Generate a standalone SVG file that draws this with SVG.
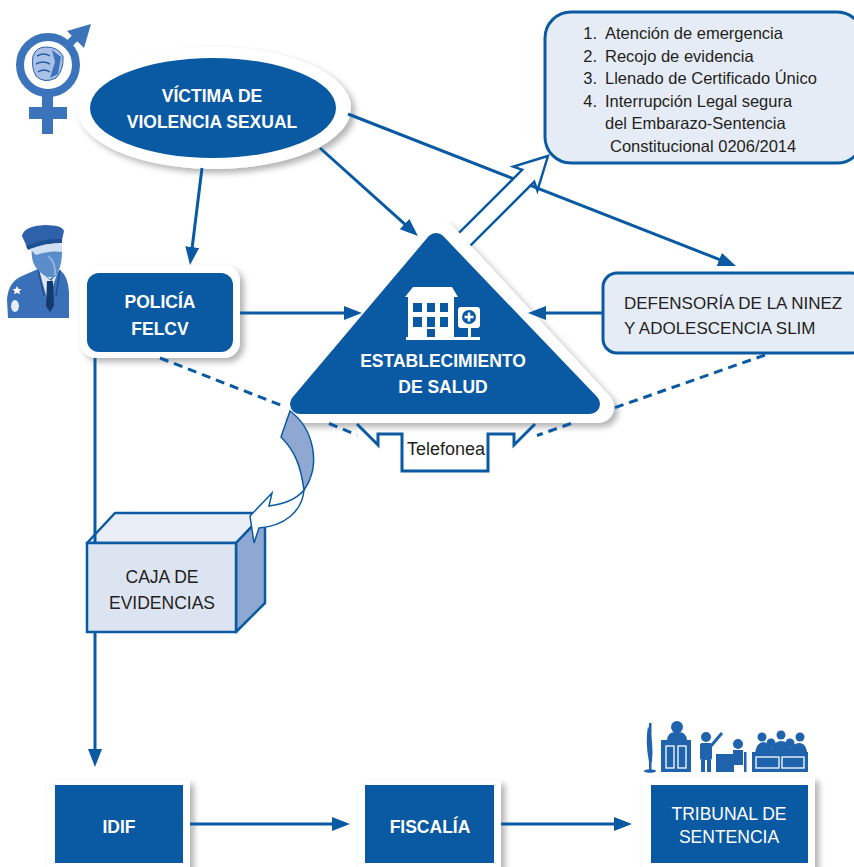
<svg xmlns="http://www.w3.org/2000/svg" width="854" height="867" viewBox="0 0 854 867">
<style>
.wt{font-family:"Liberation Sans",Arial,sans-serif;font-weight:bold;fill:#fff;font-size:17.5px;text-anchor:middle}
.wr{font-family:"Liberation Sans",Arial,sans-serif;fill:#fff;font-size:17.5px;text-anchor:middle}
.dt{font-family:"Liberation Sans",Arial,sans-serif;fill:#231f20}
.ln{stroke:#0a5aa3;stroke-width:3;fill:none}
.dash{stroke-dasharray:9 6}
.blue{fill:#0a5aa3}
.halo{fill:#fff;filter:url(#sh)}
.lt{fill:#e6ecf6;stroke:#0a5aa3;stroke-width:3}
.ic{fill:#1f63ad}
</style>
<defs>
<filter id="sh" x="-20%" y="-20%" width="150%" height="150%">
<feDropShadow dx="4" dy="4" stdDeviation="3" flood-color="#000" flood-opacity="0.3"/>
</filter>
<marker id="ah" viewBox="0 0 18 14" refX="10" refY="7" markerWidth="18" markerHeight="14" orient="auto" markerUnits="userSpaceOnUse">
<path d="M0,0 L18,7 L0,14 z" fill="#0a5aa3"/>
</marker>
</defs>
<rect width="854" height="867" fill="#fff"/>

<g id="icon-gender">
<circle cx="48" cy="65" r="28" fill="none" stroke="#3b74bb" stroke-width="8"/>
<path d="M66,47 L80,33" stroke="#3b74bb" stroke-width="8"/>
<path d="M91,24 L84,48 L67,31 Z" fill="#3b74bb"/>
<rect x="42" y="94" width="11" height="40" fill="#3b74bb"/>
<rect x="29" y="107" width="38" height="12" fill="#3b74bb"/>
<path d="M33,56 Q36,47 46,47 Q58,47 63,56 Q64,70 56,78 Q44,84 36,76 Q31,67 33,56 Z" fill="#a9c1e6" stroke="#2a5ea6" stroke-width="1"/>
<path d="M37,56 Q44,52 50,56 M36,64 Q43,60 50,64 M38,72 Q44,68 50,72" stroke="#2a5ea6" stroke-width="1.5" fill="none"/>
<path d="M52,50 L61,57 L58,74 L50,78 L55,62 Z" fill="#3b74bb"/>
</g>

<g id="icon-police">
<path d="M8,318 L7,300 Q8,282 22,276 L38,269 L50,279 L60,270 Q68,276 69,292 L69,318 Z" fill="#3a70b7"/>
<path d="M39,270 L48,302 L58,271 L51,281 Z" fill="#dde7f5"/>
<path d="M47,281 L53,281 L54,306 L50,312 L46,306 Z" fill="#123a70"/>
<path d="M38,269 L44,296 M60,270 L56,296" stroke="#244f8f" stroke-width="1.5" fill="none"/>
<path d="M32,246 Q30,262 38,270 Q46,279 55,277 Q62,268 62,252 L62,244 Z" fill="#5b8dcb"/>
<path d="M48,256 Q56,262 55,275" stroke="#8fb2e0" stroke-width="2" fill="none"/>
<path d="M22,236 Q24,226 45,225 Q62,225 64,231 L62,240 Q44,239 27,247 Z" fill="#2d62aa"/>
<path d="M26,246 Q44,238 62,239 L62,243 Q44,243 28,250 Z" fill="#1d4f93"/>
<path d="M30,249 Q46,243 62,244 L62,252 Q50,250 36,255 Z" fill="#cfe0f4"/>
<path d="M17,286 l1.5,3 l3,0.3 l-2.3,2 l0.8,3 l-3,-1.6 l-3,1.6 l0.8,-3 l-2.3,-2 l3,-0.3 Z" fill="#fff"/>
<ellipse cx="15" cy="306" rx="4" ry="6" fill="#e3ecf8"/>
</g>

<g id="node-victima">
<ellipse cx="214" cy="108" rx="137" ry="61" class="halo"/>
<ellipse cx="213" cy="108" rx="123" ry="50" class="blue"/>
<text class="wt" x="212" y="102">VÍCTIMA DE</text>
<text class="wt" x="212" y="128">VIOLENCIA SEXUAL</text>
</g>

<g id="node-lista">
<rect x="545" y="12" width="318" height="151" rx="26" class="lt"/>
<g class="dt" font-size="16.5">
<text x="597" y="39" text-anchor="end">1.</text>
<text x="605" y="39">Atención de emergencia</text>
<text x="597" y="62" text-anchor="end">2.</text>
<text x="605" y="62">Recojo de evidencia</text>
<text x="597" y="84" text-anchor="end">3.</text>
<text x="605" y="84">Llenado de Certificado Único</text>
<text x="597" y="107" text-anchor="end">4.</text>
<text x="605" y="107">Interrupción Legal segura</text>
<text x="605" y="129">del Embarazo-Sentencia</text>
<text x="610" y="152">Constitucional 0206/2014</text>
</g>
</g>

<g id="node-policia">
<rect x="80" y="265" width="160" height="93" rx="16" class="halo"/>
<rect x="87" y="273" width="146" height="79" rx="12" class="blue"/>
<text class="wt" x="160" y="308">POLICÍA</text>
<text class="wt" x="160" y="335">FELCV</text>
</g>

<g id="node-defensoria">
<rect x="603" y="273" width="262" height="80" rx="14" class="lt"/>
<text class="dt" font-size="17" x="624" y="309">DEFENSORÍA DE LA NINEZ</text>
<text class="dt" font-size="17" x="624" y="334">Y ADOLESCENCIA SLIM</text>
</g>

<g id="node-establecimiento">
<polygon points="442,238 298,407 598,407" fill="#fff" stroke="#fff" stroke-width="32" stroke-linejoin="round" filter="url(#sh)"/>
<polygon points="436,243 300,404 590,404" fill="#0a5aa3" stroke="#0a5aa3" stroke-width="20" stroke-linejoin="round"/>
<g fill="#fff">
<path d="M413,287 L452,287 L458,297 L405,297 Z"/>
<rect x="408" y="297" width="46" height="42"/>
<rect x="406" y="337" width="74" height="3"/>
<rect x="458" y="307" width="22" height="21" rx="3"/>
<rect x="468" y="327" width="3" height="11"/>
</g>
<g fill="#0a5aa3">
<rect x="413" y="303" width="9" height="9"/>
<rect x="427" y="303" width="8" height="9"/>
<rect x="440" y="303" width="8" height="9"/>
<rect x="413" y="317" width="9" height="10"/>
<rect x="427" y="317" width="8" height="10"/>
<rect x="440" y="317" width="8" height="10"/>
<rect x="427" y="329" width="8" height="8"/>
<circle cx="469" cy="317" r="7"/>
</g>
<path d="M469,312.5 V321.5 M464.5,317 H473.5" stroke="#fff" stroke-width="2.5"/>
<text class="wt" x="443" y="367">ESTABLECIMIENTO</text>
<text class="wt" x="443" y="393">DE SALUD</text>
</g>

<g id="node-caja">
<polygon points="87,543 115,513 265,513 236,543" fill="#e8edf6" stroke="#0a5aa3" stroke-width="2.5" stroke-linejoin="round"/>
<polygon points="236,543 265,513 265,603 236,632" fill="#8fa8d2" stroke="#0a5aa3" stroke-width="2.5" stroke-linejoin="round"/>
<rect x="87" y="543" width="149" height="89" fill="#dde4f1" stroke="#0a5aa3" stroke-width="2.5"/>
<text class="dt" font-size="17.5" x="162" y="583" text-anchor="middle">CAJA DE</text>
<text class="dt" font-size="17.5" x="162" y="609" text-anchor="middle">EVIDENCIAS</text>
</g>

<g id="node-idif">
<rect x="47" y="780" width="143" height="95" class="halo"/>
<rect x="55" y="785" width="128" height="78" class="blue"/>
<text class="wt" x="119" y="833">IDIF</text>
</g>

<g id="node-fiscalia">
<rect x="358" y="780" width="143" height="95" class="halo"/>
<rect x="365" y="785" width="129" height="78" class="blue"/>
<text class="wt" x="430" y="833">FISCALÍA</text>
</g>

<g id="node-tribunal">
<g class="ic">
<rect x="649" y="723" width="2.5" height="47"/>
<path d="M648,726 Q654,740 652,762 L649,762 Q645,742 648,726 Z"/>
<ellipse cx="650" cy="771" rx="6" ry="1.8"/>
<circle cx="677" cy="727" r="6"/>
<path d="M667,740 Q668,731 677,732 Q686,731 687,740 Z"/>
<rect x="661" y="740" width="30" height="32"/>
<circle cx="706" cy="737" r="5"/>
<rect x="700" y="743" width="12" height="17" rx="2"/>
<rect x="701" y="760" width="4" height="12"/>
<rect x="707" y="760" width="4" height="12"/>
<path d="M711,746 L722,733" stroke="#1f63ad" stroke-width="3"/>
<rect x="716" y="754" width="18" height="18"/>
<circle cx="738" cy="744" r="5"/>
<path d="M733,750 L743,750 L743,765 L733,765 Z"/>
<rect x="744" y="752" width="2.5" height="20"/>
<circle cx="762" cy="737" r="4.5"/>
<circle cx="781" cy="735" r="4.5"/>
<circle cx="800" cy="737" r="4.5"/>
<circle cx="771" cy="743" r="4.5"/>
<circle cx="790" cy="743" r="4.5"/>
<path d="M755,754 Q756,742 764,742 Q770,744 772,748 Q775,741 781,741 Q788,741 790,748 Q794,743 800,743 Q807,744 807,754 Z"/>
<rect x="752" y="752" width="56" height="20"/>
</g>
<g fill="none" stroke="#fff" stroke-width="1.3">
<rect x="666" y="746" width="8" height="22"/>
<rect x="678" y="746" width="8" height="22"/>
<rect x="756" y="757" width="23" height="11"/>
<rect x="782" y="757" width="22" height="11"/>
</g>
<rect x="642" y="777" width="173" height="98" class="halo"/>
<rect x="651" y="785" width="157" height="78" class="blue"/>
<text class="wr" x="729" y="820">TRIBUNAL DE</text>
<text class="wr" x="729" y="843">SENTENCIA</text>
</g>

<g id="connectors">
<path class="ln" d="M202,168 L191,257" marker-end="url(#ah)"/>
<path class="ln" d="M320,148 L412,230.6" marker-end="url(#ah)"/>
<path class="ln" d="M348,114 L728.6,263.1" marker-end="url(#ah)"/>
<path class="ln" d="M240,313 L354,313" marker-end="url(#ah)"/>
<path class="ln" d="M603,313 L536,313" marker-end="url(#ah)"/>
<path class="ln" d="M95,358 L95,543"/>
<path class="ln" d="M95,632 L95,759" marker-end="url(#ah)"/>
<path class="ln" d="M190,824 L342,824" marker-end="url(#ah)"/>
<path class="ln" d="M501,824 L624,824" marker-end="url(#ah)"/>
<path class="ln dash" d="M160,358 L282,405.6 M329,423.5 L357,435"/>
<path class="ln dash" d="M765,355 L614,408 M571,423.5 L537,435.5"/>
<path class="ln" d="M357,424 L378,445 L378,434 L402,434 L402,471 L488,471 L488,434 L514,434 L514,445 L535,424"/>
<text class="dt" font-size="18" x="446" y="455" text-anchor="middle">Telefonea</text>
<path transform="translate(548,156) rotate(-45)" d="M-117,-8.5 L-28,-8.5 L-32,-17 L0,0 L-32,17 L-28,8.5 L-118,8.5" fill="#fff" stroke="#0a5aa3" stroke-width="2.5" stroke-linejoin="miter"/>
<path d="M290,411 C313,428 322,464 304,490 C301,468 296,452 281,437 Z" fill="#8fa8d2" stroke="#0a5aa3" stroke-width="1.5"/>
<path d="M304,490 C296,500 284,504 269,506 L272,493 L250,516 L254,543 L259,528 C284,526 302,512 304,490 Z" fill="#fff" stroke="#0a5aa3" stroke-width="1.5"/>
</g>
</svg>
